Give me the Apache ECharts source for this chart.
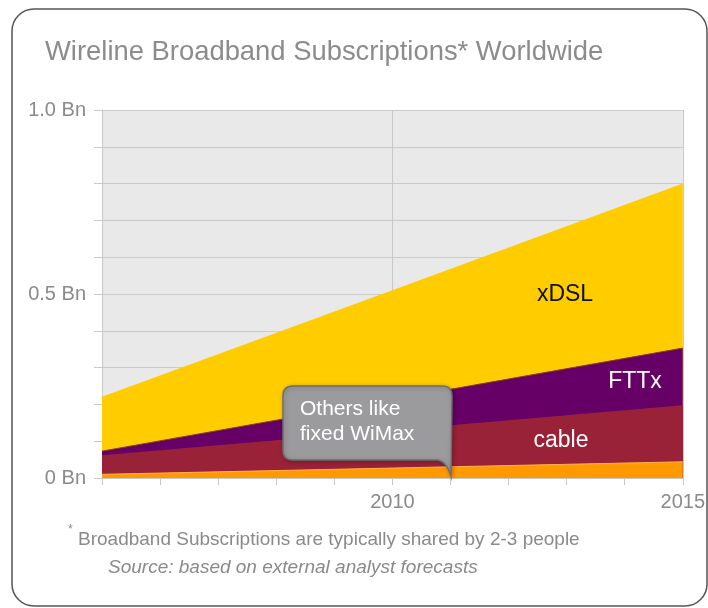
<!DOCTYPE html>
<html>
<head>
<meta charset="utf-8">
<script src="https://cdn.jsdelivr.net/npm/echarts@6/dist/echarts.min.js"></script>
<style>
  html, body { margin: 0; padding: 0; background: #fff; }
  #broadband-chart { width: 708px; height: 608px; }
</style>
</head>
<body>
<div id="broadband-chart"></div>
<script>
// years (2005 .. 2015)
const years = [2005, 2010, 2015];
// layer thickness in billions, bottom to top
const othersValues = [0.01, 0.027, 0.044];
const cableValues = [0.052, 0.103, 0.154];
const fttxValues = [0.011, 0.083, 0.155];
const xdslValues = [0.148, 0.297, 0.447];
const yTickLabels = { 0: "0 Bn", 0.5: "0.5 Bn", 1: "1.0 Bn" };
const xTickLabels = [2010, 2015];

const font = "Liberation Sans, Arial, sans-serif";

// callout shape (speech bubble with tail at bottom right)
const BubbleShape = echarts.graphic.extendPath(
  "M293 386 L442 386 Q452 386 452 396 L451 476 Q447 462 438 460 L293 460 Q283 460 283 450 L283 396 Q283 386 293 386 Z",
  {}
);
echarts.graphic.registerShape("calloutBubble", BubbleShape);

// running totals so each layer is filled from 0 up to its top edge
const layers = [othersValues, cableValues, fttxValues, xdslValues];
const tops = [];
layers.forEach((vals, li) => {
  tops.push(vals.map((v, i) => (li > 0 ? tops[li - 1][i] : 0) + v));
});

function pairs(values) {
  return values.map((v, i) => [years[i], +v.toFixed(4)]);
}

function areaSeries(name, values, color, lineColor) {
  return {
    name: name,
    type: "line",
    symbol: "none",
    data: pairs(values),
    lineStyle: { width: lineColor ? 1 : 0, color: lineColor || color },
    areaStyle: { color: color, opacity: 1 },
    z: 3,
  };
}

function layerLabel(text, x, y, color) {
  return {
    type: "text",
    z: 50,
    style: {
      text: text,
      x: x,
      y: y,
      fill: color,
      font: "23px " + font,
      align: "center",
      verticalAlign: "middle",
    },
  };
}

let chartDom = echarts.init(document.getElementById("broadband-chart"));
chartDom.setOption({
  animation: false,
  backgroundColor: "#fff",
  title: {
    text: "Wireline Broadband Subscriptions* Worldwide",
    left: 40,
    top: 34,
    textStyle: {
      color: "#8c8c8c",
      fontSize: 27.4,
      fontWeight: "normal",
      fontFamily: font,
    },
  },
  grid: {
    left: 102,
    right: 24,
    top: 110,
    bottom: 130,
    show: true,
    backgroundColor: "#e9e9e9",
    borderWidth: 0,
  },
  xAxis: [
    {
      type: "value",
      min: 2005,
      max: 2015,
      interval: 1,
      axisLine: { show: true, lineStyle: { color: "#c8c8c8" } },
      axisTick: { show: true, length: 7, lineStyle: { color: "#c8c8c8" } },
      splitLine: { show: false },
      axisLabel: {
        color: "#8a8a8a",
        fontSize: 20,
        fontFamily: font,
        margin: 14,
        formatter: (v) => (xTickLabels.indexOf(v) >= 0 ? String(v) : ""),
      },
    },
    {
      type: "value",
      min: 2005,
      max: 2015,
      interval: 5,
      position: "bottom",
      axisLine: { show: false },
      axisTick: { show: false },
      axisLabel: { show: false },
      splitLine: { show: true, lineStyle: { color: "#c8c8c8", width: 1 } },
    },
  ],
  yAxis: {
    type: "value",
    min: 0,
    max: 1,
    interval: 0.1,
    axisLine: { show: true, lineStyle: { color: "#c8c8c8" } },
    axisTick: { show: true, length: 8, lineStyle: { color: "#c8c8c8" } },
    splitLine: { show: true, lineStyle: { color: "#cbcbcb" } },
    axisLabel: {
      color: "#8a8a8a",
      fontSize: 20,
      fontFamily: font,
      margin: 16,
      formatter: (v) => {
        let key = Math.round(v * 10) / 10;
        return yTickLabels[key] || "";
      },
    },
  },
  // drawn top layer first so the lower layers cover it
  series: [
    areaSeries("xDSL", tops[3], "#ffcc00"),
    areaSeries("FTTx", tops[2], "#660066", "#8a3a1a"),
    areaSeries("cable", tops[1], "#9a2238"),
    areaSeries("Others", tops[0], "#ff9900", "#ffb347"),
  ],
  graphic: [
    {
      type: "rect",
      z: -10,
      shape: { x: 12, y: 9, width: 695, height: 597, r: 22 },
      style: { fill: "#fff", stroke: "#555", lineWidth: 1.5 },
    },
    layerLabel("xDSL", 565, 295, "#111"),
    layerLabel("FTTx", 635, 382, "#fff"),
    layerLabel("cable", 561, 441, "#fff"),
    {
      type: "calloutBubble",
      z: 60,
      style: {
        fill: "#9b9b9d",
        stroke: "#6e6e6e",
        lineWidth: 1.5,
        shadowBlur: 4,
        shadowColor: "rgba(0,0,0,0.25)",
        shadowOffsetX: 1,
        shadowOffsetY: 1,
      },
    },
    {
      type: "text",
      z: 61,
      style: {
        text: "Others like\nfixed WiMax",
        x: 300,
        y: 397,
        fill: "#fff",
        font: "21px " + font,
        lineHeight: 25,
      },
    },
    {
      type: "text",
      z: 50,
      style: { text: "*", x: 68, y: 524, fill: "#8a8a8a", font: "12px " + font },
    },
    {
      type: "text",
      z: 50,
      style: {
        text: "Broadband Subscriptions are typically shared by 2-3 people",
        x: 78,
        y: 540,
        fill: "#8a8a8a",
        font: "19px " + font,
        verticalAlign: "middle",
      },
    },
    {
      type: "text",
      z: 50,
      style: {
        text: "Source: based on external analyst forecasts",
        x: 108,
        y: 568,
        fill: "#8a8a8a",
        font: "italic 19px " + font,
        verticalAlign: "middle",
      },
    },
  ],
});

window.addEventListener("resize", () => {
  chartDom.resize();
});
</script>
</body>
</html>
